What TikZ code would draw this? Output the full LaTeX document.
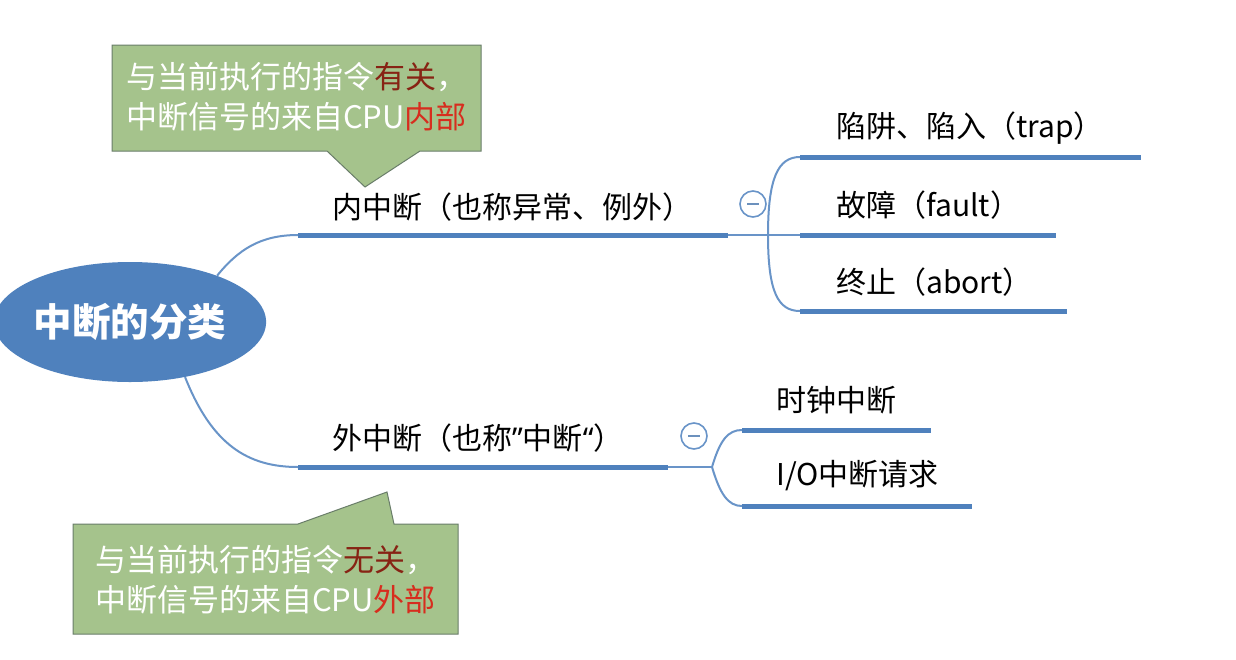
\documentclass[tikz,border=0pt]{standalone}
\usepackage{fontspec}
\newfontfamily\cjk{Noto Sans CJK SC}
\newfontfamily\latin{Noto Sans}
\usetikzlibrary{shapes.geometric}

\definecolor{rootblue}{RGB}{79,129,189}
\definecolor{limbblue}{RGB}{79,129,189}
\definecolor{twigblue}{RGB}{105,148,200}
\definecolor{notefill}{RGB}{165,195,140}
\definecolor{noteedge}{RGB}{105,125,105}
\definecolor{darkred}{RGB}{135,35,20}
\definecolor{brightred}{RGB}{215,45,30}

\tikzset{
  limb/.style={draw=limbblue, line width=5pt},
  twig/.style={draw=twigblue, line width=2pt},
  lab/.style={anchor=west, inner sep=0pt, text=black,
    font=\cjk\fontsize{30}{36}\selectfont},
  toggle/.style={circle, draw=twigblue, line width=1.6pt, fill=white,
    minimum size=26pt, inner sep=0pt},
  notebox/.style={fill=notefill, draw=noteedge, line width=1pt},
  notetext/.style={text=white, align=center, inner sep=0pt,
    font=\cjk\fontsize{31}{40}\selectfont}
}

\begin{document}
\begin{tikzpicture}[x=1pt,y=-1pt]
\useasboundingbox[fill=white] (0,0) rectangle (1236,659);

% central topic
\node[ellipse, fill=rootblue, minimum width=264pt, minimum height=120pt,
  inner sep=0pt, text=white, font=\cjk\bfseries\fontsize{38.5}{44}\selectfont]
  (root) at (130,322) {中断的分类};

% ---- internal interrupts ----
\coordinate (inS) at (298,235);
\coordinate (inE) at (728,235);
\coordinate (inJ) at (768,235);
\coordinate (c1S) at (800,157);
\coordinate (c1E) at (1141,157);
\coordinate (c2S) at (800,235);
\coordinate (c2E) at (1056,235);
\coordinate (c3S) at (800,311);
\coordinate (c3E) at (1067,311);

\draw[twig] (root.28) .. controls (238,250) and (260,235) .. (inS);
\draw[limb] (inS) -- (inE);
\draw[twig] (inE) -- (c2S);
\draw[twig] (inJ) .. controls (768,178) and (778,157) .. (c1S);
\draw[twig] (inJ) .. controls (768,292) and (778,311) .. (c3S);
\draw[limb] (c1S) -- (c1E);
\draw[limb] (c2S) -- (c2E);
\draw[limb] (c3S) -- (c3E);

\node[lab] (inL) at (332,207) {内中断（也称异常、例外）};
\node[lab] (c1L) at (836,128) {陷阱、陷入（trap）};
\node[lab] (c2L) at (836,205) {故障（fault）};
\node[lab] (c3L) at (836,282) {终止（abort）};

\node[toggle] (inT) at (753,204) {};
\draw[twigblue!85!gray, line width=1.6pt] ([xshift=-6pt]inT.center) -- ([xshift=6pt]inT.center);

% ---- external interrupts ----
\coordinate (exS) at (298,467);
\coordinate (exE) at (668,467);
\coordinate (exJ) at (712,467);
\coordinate (d1S) at (742,430);
\coordinate (d1E) at (931,430);
\coordinate (d2S) at (742,506);
\coordinate (d2E) at (972,506);

\draw[twig] (root.-45) .. controls (212,445) and (248,467) .. (exS);
\draw[limb] (exS) -- (exE);
\draw[twig] (exE) -- (exJ);
\draw[twig] (exJ) .. controls (720,440) and (728,430) .. (d1S);
\draw[twig] (exJ) .. controls (720,494) and (728,506) .. (d2S);
\draw[limb] (d1S) -- (d1E);
\draw[limb] (d2S) -- (d2E);

\node[lab] (exL) at (332,438) {外中断（也称{\latin ”}中断{\latin “}）};
\node[lab] (d1L) at (776,400) {时钟中断};
\node[lab] (d2L) at (776,476) {I/O中断请求};

\node[toggle] (exT) at (694,436) {};
\draw[twigblue!85!gray, line width=1.6pt] ([xshift=-6pt]exT.center) -- ([xshift=6pt]exT.center);

% ---- callout notes ----
\path[notebox] (112,45) -- (481,45) -- (481,151) -- (420,151) -- (365,187)
  -- (327,151) -- (112,151) -- cycle;
\node[notetext] (noteIn) at (296.5,97)
  {与当前执行的指令\textcolor{darkred}{有关}，\\中断信号的来自CPU\textcolor{brightred}{内部}};

\path[notebox] (73,524) -- (298,524) -- (387,492) -- (394,524) -- (458,524)
  -- (458,634) -- (73,634) -- cycle;
\node[notetext] (noteEx) at (265.5,580)
  {与当前执行的指令\textcolor{darkred}{无关}，\\中断信号的来自CPU\textcolor{brightred}{外部}};
\end{tikzpicture}
\end{document}
